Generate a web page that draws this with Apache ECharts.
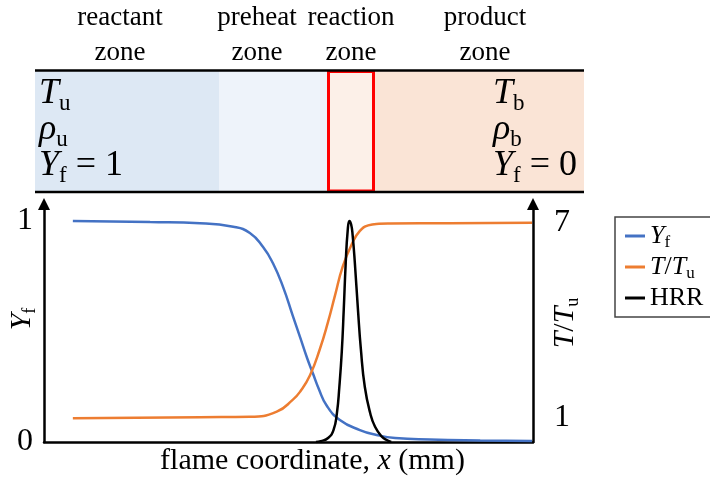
<!DOCTYPE html>
<html>
<head>
<meta charset="utf-8">
<script src="https://cdn.jsdelivr.net/npm/echarts@6/dist/echarts.min.js"></script>
<style>
  html, body { margin: 0; padding: 0; background: #fff; }
  #chart { width: 710px; height: 483px; }
</style>
</head>
<body>
<div id="chart"></div>
<script>
// Flame coordinate positions (mm) and profile values for a premixed flame
const yfX    = [0.59, 2.17, 3.19, 3.87, 4.21, 4.48, 4.68, 4.89, 5.09, 5.24, 5.38, 5.50, 5.62, 5.78, 6.05, 6.46, 6.80, 7.18, 7.89, 8.92, 9.98];
const yfVals = [1.000, 0.995, 0.990, 0.974, 0.946, 0.882, 0.810, 0.701, 0.570, 0.472, 0.380, 0.310, 0.240, 0.165, 0.100, 0.054, 0.032, 0.018, 0.011, 0.007, 0.005];

const tX    = [0.59, 3.19, 4.21, 4.76, 5.09, 5.24, 5.44, 5.64, 5.81, 5.95, 6.11, 6.30, 6.46, 6.63, 6.85, 7.08, 8.30, 9.98];
const tVals = [0.98, 1.01, 1.02, 1.18, 1.55, 1.80, 2.30, 3.10, 3.95, 4.75, 5.65, 6.35, 6.74, 6.91, 6.96, 6.97, 6.98, 6.99];

const hrrX    = [5.56, 5.66, 5.81, 5.92, 5.99, 6.04, 6.09, 6.13, 6.17, 6.21, 6.245, 6.28, 6.31, 6.36, 6.42, 6.48, 6.56, 6.67, 6.77, 6.91, 7.01, 7.10];
const hrrVals = [0.000, 0.004, 0.018, 0.054, 0.131, 0.250, 0.410, 0.600, 0.810, 0.955, 1.000, 0.985, 0.940, 0.800, 0.600, 0.420, 0.250, 0.131, 0.069, 0.024, 0.009, 0.000];

// Axis tick labels
const yfTicks = [0, 1];
const tTicks  = [1, 7];

const seriesNames = ['Yf', 'T/Tu', 'HRR'];
const colors = ['#4472c4', '#ed7d31', '#000000'];

const FONT = 'Liberation Serif';
const pairs = (xs, ys) => xs.map((x, i) => [x, ys[i]]);

// rich text styles for math-like labels
function mathRich(size, subSize, lh) {
  return {
    it:  { fontFamily: FONT, fontStyle: 'italic', fontSize: size, lineHeight: lh, color: '#000', verticalAlign: 'middle' },
    rm:  { fontFamily: FONT, fontSize: size, lineHeight: lh, color: '#000', verticalAlign: 'middle' },
    sub: { fontFamily: FONT, fontSize: subSize, lineHeight: lh, color: '#000', verticalAlign: 'bottom' }
  };
}

const legendText = {
  'Yf':   '{it|Y}{sub|f}',
  'T/Tu': '{it|T}{rm|/}{it|T}{sub|u}',
  'HRR':  '{rm|HRR}'
};

const chart = echarts.init(document.getElementById('chart'), null, { renderer: 'canvas' });

// Schematic band above the plot: reactant / preheat / reaction / product zones
const bandTop = 71, bandBot = 192;
const zoneEdges = [35, 219, 327, 375, 584];
const zoneFills = ['#dde8f4', '#eef3fa', '#fcf0e8', '#fae4d6'];
const zoneTitles = [['reactant', 'zone'], ['preheat', 'zone'], ['reaction', 'zone'], ['product', 'zone']];
const zoneTitleX = [120, 257, 351, 485];

const graphics = [];
zoneFills.forEach((c, i) => {
  graphics.push({
    type: 'rect', silent: true, z: 0,
    shape: { x: zoneEdges[i], y: bandTop, width: zoneEdges[i + 1] - zoneEdges[i], height: bandBot - bandTop },
    style: { fill: c }
  });
});
graphics.push({
  type: 'rect', silent: true, z: 2,
  shape: { x: 328.5, y: bandTop + 0.5, width: 45, height: bandBot - bandTop - 1.5 },
  style: { fill: 'none', stroke: '#ff0000', lineWidth: 3 }
});
[bandTop - 0.5, bandBot].forEach(y => {
  graphics.push({
    type: 'line', silent: true, z: 3,
    shape: { x1: 35, y1: y, x2: 584, y2: y },
    style: { stroke: '#000', lineWidth: 2.5 }
  });
});
zoneTitles.forEach((t, i) => {
  t.forEach((s, j) => {
    graphics.push({
      type: 'text', silent: true, z: 3,
      style: {
        text: s, x: zoneTitleX[i], y: j === 0 ? 18 : 53,
        align: 'center', verticalAlign: 'middle',
        font: '27px "' + FONT + '"', fill: '#000'
      }
    });
  });
});

const boxRich = mathRich(36, 23, 42);
const leftState  = ['{it|T}{sub|u}', '{it|ρ}{sub|u}', '{it|Y}{sub|f}{rm| = 1}'];
const rightState = ['{it|T}{sub|b}', '{it|ρ}{sub|b}', '{it|Y}{sub|f}{rm| = 0}'];
const stateY = [94, 130, 166];
[[39, leftState], [493, rightState]].forEach(([x, lines]) => {
  lines.forEach((s, i) => {
    graphics.push({
      type: 'text', silent: true, z: 3,
      style: { text: s, x: x, y: stateY[i], verticalAlign: 'middle', rich: boxRich }
    });
  });
});

const axisLineStyle = { color: '#000', width: 2.5 };

chart.setOption({
  animation: false,
  backgroundColor: '#fff',
  grid: { left: 44, right: 177, top: 204, bottom: 41, containLabel: false, outerBoundsMode: 'none' },
  legend: {
    orient: 'vertical',
    left: 615, top: 217,
    data: seriesNames,
    icon: 'rect',
    itemWidth: 20, itemHeight: 3,
    itemGap: 3,
    padding: [6, 16, 6, 10],
    borderColor: '#444', borderWidth: 1.5, borderRadius: 0,
    formatter: name => legendText[name],
    textStyle: { rich: mathRich(26, 17, 30) }
  },
  xAxis: {
    type: 'value', min: 0, max: 10,
    axisLine: { show: true, onZero: false, lineStyle: axisLineStyle },
    axisTick: { show: false },
    axisLabel: { show: false },
    splitLine: { show: false },
    name: '{rm|flame coordinate, }{it|x}{rm| (mm)}',
    nameLocation: 'middle',
    nameGap: 2,
    nameMoveOverlap: false,
    nameTextStyle: { padding: [0, 0, 0, 48], rich: mathRich(30, 18, 34), verticalAlign: 'top' }
  },
  yAxis: [
    {
      type: 'value', min: 0, max: 1.077, position: 'left',
      axisLine: { show: true, onZero: false, lineStyle: axisLineStyle, symbol: ['none', 'triangle'], symbolSize: [12, 12] },
      axisTick: { show: false },
      splitLine: { show: false },
      axisLabel: { customValues: yfTicks, margin: 11, fontFamily: FONT, fontSize: 32, color: '#000' },
      name: '{it|Y}{sub|f}',
      nameLocation: 'middle', nameRotate: 90, nameGap: 5,
      nameMoveOverlap: false,
      nameTextStyle: { rich: mathRich(30, 18, 34), padding: [0, 0, 0, 8] }
    },
    {
      type: 'value', min: 0.246, max: 7.569, position: 'right',
      axisLine: { show: true, onZero: false, lineStyle: axisLineStyle, symbol: ['none', 'triangle'], symbolSize: [12, 12] },
      axisTick: { show: false },
      splitLine: { show: false },
      axisLabel: { customValues: tTicks, margin: 21, fontFamily: FONT, fontSize: 32, color: '#000' },
      name: '{it|T}{rm|/}{it|T}{sub|u}',
      nameLocation: 'middle', nameRotate: 90, nameGap: 15,
      nameMoveOverlap: false,
      nameTextStyle: { rich: mathRich(30, 18, 34) }
    }
  ],
  series: [
    {
      name: seriesNames[0], type: 'line', yAxisIndex: 0,
      data: pairs(yfX, yfVals),
      showSymbol: false, smooth: 0.5,
      lineStyle: { color: colors[0], width: 2.5 }, itemStyle: { color: colors[0] }
    },
    {
      name: seriesNames[1], type: 'line', yAxisIndex: 1,
      data: pairs(tX, tVals),
      showSymbol: false, smooth: 0.5,
      lineStyle: { color: colors[1], width: 2.5 }, itemStyle: { color: colors[1] }
    },
    {
      name: seriesNames[2], type: 'line', yAxisIndex: 0,
      data: pairs(hrrX, hrrVals),
      showSymbol: false, smooth: 0.5,
      lineStyle: { color: colors[2], width: 2.5 }, itemStyle: { color: colors[2] }
    }
  ],
  graphic: graphics
});
</script>
</body>
</html>
